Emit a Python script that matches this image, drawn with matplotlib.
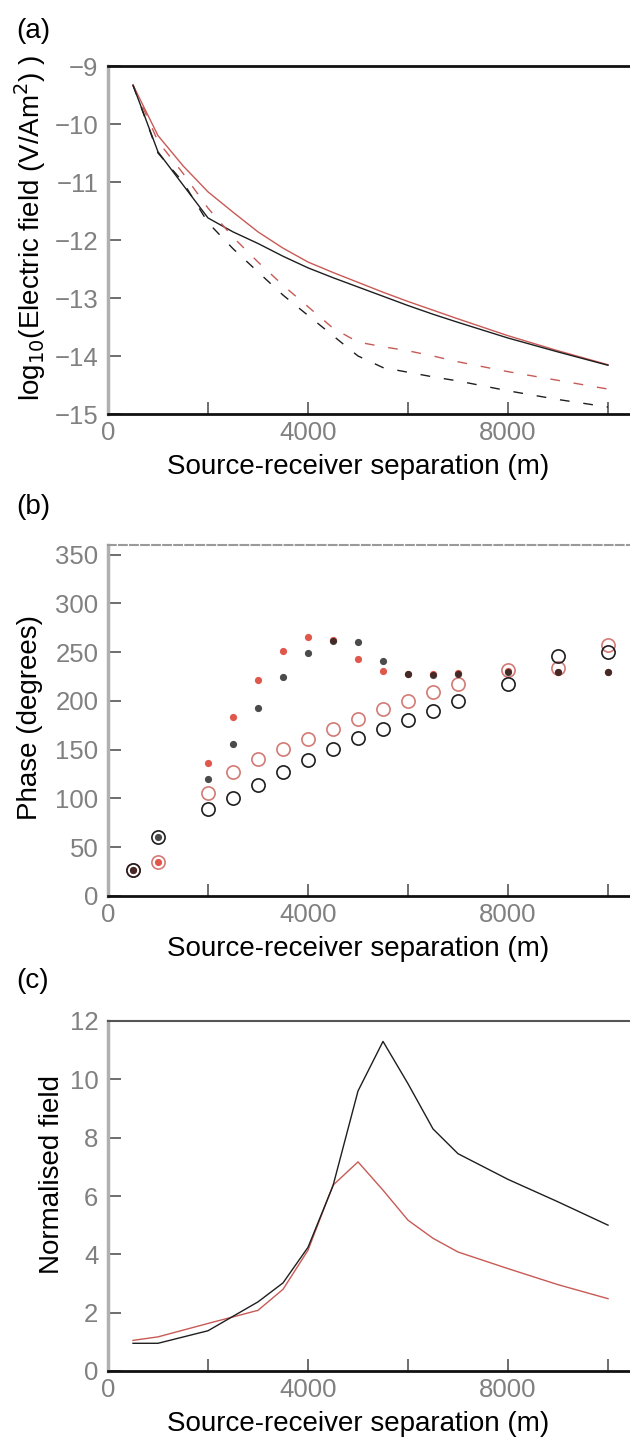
import numpy as np
import matplotlib
matplotlib.use("Agg")
import matplotlib.pyplot as plt

plt.rcParams["font.family"] = ["Liberation Sans", "DejaVu Sans"]

# (a) amplitude vs offset
x_a = [500, 1000, 1500, 2000, 2500, 3000, 3500, 4000, 4500, 5000, 5500,
       6000, 6500, 7000, 8000, 9000, 10000]
black_solid = [-9.33, -10.48, -11.05, -11.62, -11.86, -12.06, -12.28, -12.48, -12.65,
               -12.81, -12.97, -13.13, -13.28, -13.42, -13.69, -13.93, -14.16]
red_solid = [-9.33, -10.20, -10.72, -11.17, -11.52, -11.86, -12.14, -12.38, -12.56,
             -12.73, -12.90, -13.06, -13.21, -13.36, -13.65, -13.91, -14.15]
black_dash = [-9.33, -10.50, -11.00, -11.70, -12.15, -12.55, -12.95, -13.30, -13.65,
              -14.00, -14.20, -14.28, -14.36, -14.43, -14.60, -14.75, -14.88]
red_dash = [-9.33, -10.30, -10.85, -11.45, -11.95, -12.38, -12.78, -13.15, -13.52,
            -13.76, -13.84, -13.91, -14.00, -14.10, -14.27, -14.42, -14.57]

# (b) phase
x_b = [500, 1000, 2000, 2500, 3000, 3500, 4000, 4500, 5000, 5500, 6000,
       6500, 7000, 8000, 9000, 10000]
black_star = [27, 60, 120, 156, 193, 225, 249, 262, 260, 241, 228, 227, 228, 230, 230, 230]
red_star = [27, 35, 136, 184, 222, 251, 266, 263, 243, 231, 228, 228, 229, 231, 230, 230]
black_circ = [27, 60, 89, 100, 114, 127, 139, 151, 162, 171, 181, 190, 200, 217, 246, 250]
red_circ = [27, 35, 106, 127, 141, 151, 161, 171, 182, 192, 200, 209, 217, 232, 234, 257]

# (c) normalised field
x_c = [500, 1000, 2000, 3000, 3500, 4000, 4500, 5000, 5500, 6000, 6500,
       7000, 8000, 9000, 10000]
black_norm = [0.95, 0.95, 1.38, 2.37, 3.02, 4.24, 6.35, 9.6, 11.3, 9.85, 8.3,
              7.45, 6.57, 5.8, 5.0]
red_norm = [1.05, 1.17, 1.63, 2.08, 2.8, 4.14, 6.37, 7.17, 6.2, 5.17, 4.55,
            4.08, 3.51, 2.96, 2.48]

RED = "#c85a55"
BLK = "#1e1e1e"
TICKC = "#808080"

fig = plt.figure(figsize=(6.3, 14.42), dpi=100)


def style_axes(ax, ylim, yticks, top_style):
    ax.set_xlim(0, 10440)
    ax.set_ylim(*ylim)
    ax.set_xticks(np.arange(0, 10001, 2000))
    ax.set_xticklabels(["0", "", "4000", "", "8000", ""])
    ax.set_yticks(yticks)
    ax.tick_params(direction="in", length=9, width=1.2, color="#555555",
                   labelsize=18.5, labelcolor=TICKC, pad=7)
    ax.tick_params(axis="x", pad=5)
    ax.spines["right"].set_visible(False)
    ax.spines["left"].set_color("#b0b0b0")
    ax.spines["left"].set_linewidth(2.5)
    ax.spines["bottom"].set_color("#111111")
    ax.spines["bottom"].set_linewidth(2)
    ax.spines["top"].set_color(top_style[0])
    ax.spines["top"].set_linewidth(top_style[1])
    ax.spines["top"].set_linestyle(top_style[2])
    ax.set_xlabel("Source-receiver separation (m)", fontsize=20, labelpad=-4)
    ax.xaxis.set_label_coords(0.479, -0.115)


# ---- (a)
ax1 = fig.add_axes([108 / 630, 1 - 414 / 1442, 522 / 630, 348 / 1442])
ax1.plot(x_a, red_solid, color=RED, lw=1.0)
ax1.plot(x_a, black_solid, color=BLK, lw=1.0)
ax1.plot(x_a, red_dash, color=RED, lw=1.0, dashes=(7, 10))
ax1.plot(x_a, black_dash, color=BLK, lw=1.0, dashes=(7, 10))
style_axes(ax1, (-15, -9), np.arange(-15, -8, 1), ("#111111", 2, "-"))
ax1.set_yticklabels(["\u221215", "\u221214", "\u221213", "\u221212",
                     "\u221211", "\u221210", "\u22129"])
fig.text(30 / 630, 1 - 228 / 1442, "log$_{10}$(Electric field (V/Am$^2$) )",
         rotation=90, ha="center", va="center", fontsize=20)
fig.text(16 / 630, 1 - 31 / 1442, "(a)", fontsize=20, va="center")

# ---- (b)
ax2 = fig.add_axes([108 / 630, 1 - 896 / 1442, 522 / 630, 351 / 1442])
ax2.plot(x_b, red_circ, "o", ms=9.5, mfc="none", mec="#d27a74", mew=1.2)
ax2.plot(x_b, black_circ, "o", ms=9.5, mfc="none", mec=BLK, mew=1.2)
ax2.plot(x_b, red_star, "o", ms=5.2, color="#e0584c", mec="none")
ax2.plot(x_b, black_star, "o", ms=5.2, color=BLK, mec="none", alpha=0.8)
style_axes(ax2, (0, 360), np.arange(0, 351, 50), ("#9a9a9a", 1.5, "--"))
fig.text(30 / 630, 1 - 718 / 1442, "Phase (degrees)",
         rotation=90, ha="center", va="center", fontsize=20)
fig.text(16 / 630, 1 - 507 / 1442, "(b)", fontsize=20, va="center")

# ---- (c)
ax3 = fig.add_axes([108 / 630, 1 - 1371 / 1442, 522 / 630, 350 / 1442])
ax3.plot(x_c, red_norm, color=RED, lw=1.0)
ax3.plot(x_c, black_norm, color=BLK, lw=1.0)
style_axes(ax3, (0, 12), np.arange(0, 13, 2), ("#555555", 1.5, "-"))
fig.text(52 / 630, 1 - 1175 / 1442, "Normalised field",
         rotation=90, ha="center", va="center", fontsize=20)
fig.text(16 / 630, 1 - 981 / 1442, "(c)", fontsize=20, va="center")

fig.savefig("out.png", dpi=100)
